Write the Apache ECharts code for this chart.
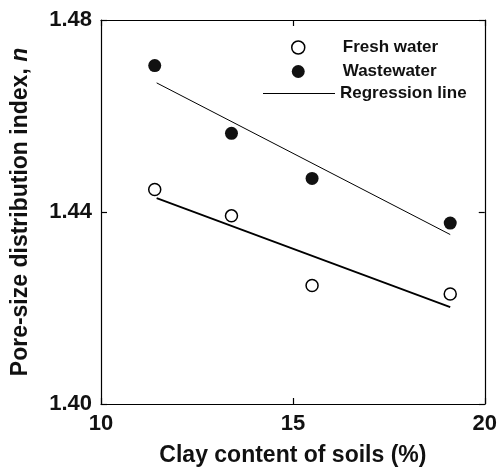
<!DOCTYPE html>
<html>
<head>
<meta charset="utf-8">
<script src="https://cdn.jsdelivr.net/npm/echarts@6/dist/echarts.min.js"></script>
<style>
  html, body { margin: 0; padding: 0; background: #fff; }
  #chart { width: 500px; height: 472px; }
</style>
</head>
<body>
<div id="chart"></div>
<script>
  // clay content (%) of the four soils
  var clay = [11.4, 13.4, 15.5, 19.1];
  var freshWater = [1.4447, 1.4392, 1.4247, 1.4229];
  var wasteWater = [1.4705, 1.4564, 1.4470, 1.4377];
  // regression end points
  var regX = [11.45, 19.1];
  var freshReg = [1.4429, 1.4202];
  var wasteReg = [1.4669, 1.4353];
  var xTicks = [10, 15, 20];
  var yTicks = [1.40, 1.44, 1.48];

  function pairs(xs, ys) {
    return xs.map(function (x, i) { return [x, ys[i]]; });
  }

  var font = 'Liberation Sans';
  var chart = echarts.init(document.getElementById('chart'));

  var axisLine = { lineStyle: { color: '#000', width: 1.2 } };
  var tick = { inside: true, length: 6, lineStyle: { color: '#000', width: 1.2 } };
  var legendText = { fontFamily: font, fontWeight: 'bold', fontSize: 17, color: '#111' };

  var option = {
    animation: false,
    grid: { left: 101, right: 13, top: 20, bottom: 66 },
    legend: [
      {
        left: 286, top: 34, orient: 'vertical',
        itemWidth: 13, itemHeight: 13, itemGap: 7,
        textStyle: Object.assign({ padding: [0, 0, 0, 33] }, legendText),
        data: [
          { name: 'Fresh water', icon: 'circle', itemStyle: { color: '#fff', borderColor: '#000', borderWidth: 1.5 } },
          { name: 'Wastewater', icon: 'circle', itemStyle: { color: '#111', borderWidth: 0 } }
        ]
      },
      {
        left: 258, top: 80, orient: 'vertical',
        itemWidth: 72, itemHeight: 12,
        textStyle: legendText,
        data: [
          { name: 'Regression line', icon: 'path://M0,0h72v1h-72z', itemStyle: { color: '#000', borderWidth: 0 } }
        ]
      }
    ],
    xAxis: [
      {
        type: 'value', min: 10, max: 20, interval: 5,
        name: 'Clay content of soils (%)', nameLocation: 'middle', nameGap: 40,
        nameTextStyle: { fontFamily: font, fontWeight: 'bold', fontSize: 23, color: '#111' },
        axisLine: axisLine, axisTick: tick, splitLine: { show: false },
        axisLabel: {
          margin: 9, fontFamily: font, fontWeight: 'bold', fontSize: 22, color: '#111',
          formatter: function (v) { return xTicks.indexOf(v) >= 0 ? String(v) : ''; }
        }
      },
      {
        type: 'value', min: 10, max: 20, interval: 5, position: 'top',
        axisLine: axisLine, axisTick: tick, axisLabel: { show: false }, splitLine: { show: false }
      }
    ],
    yAxis: [
      {
        type: 'value', min: 1.40, max: 1.48, interval: 0.04,
        name: 'Pore-size distribution index, {i|n}', nameLocation: 'middle', nameGap: 69,
        nameTextStyle: {
          fontFamily: font, fontWeight: 'bold', fontSize: 23, color: '#111',
          rich: { i: { fontFamily: font, fontWeight: 'bold', fontStyle: 'italic', fontSize: 23, color: '#111' } }
        },
        axisLine: axisLine, axisTick: tick, splitLine: { show: false },
        axisLabel: {
          margin: 9, fontFamily: font, fontWeight: 'bold', fontSize: 22, color: '#111',
          formatter: function (v) {
            var hit = yTicks.filter(function (t) { return Math.abs(t - v) < 1e-6; });
            return hit.length ? hit[0].toFixed(2) : '';
          }
        }
      },
      {
        type: 'value', min: 1.40, max: 1.48, interval: 0.04, position: 'right',
        axisLine: axisLine, axisTick: tick, axisLabel: { show: false }, splitLine: { show: false }
      }
    ],
    series: [
      {
        name: 'Regression line', type: 'line', data: pairs(regX, freshReg),
        symbol: 'none', lineStyle: { color: '#000', width: 1.8 }, z: 1
      },
      {
        name: 'Regression line', type: 'line', data: pairs(regX, wasteReg),
        symbol: 'none', lineStyle: { color: '#000', width: 1 }, z: 1
      },
      {
        name: 'Fresh water', type: 'scatter', data: pairs(clay, freshWater),
        symbolSize: 12, itemStyle: { color: '#fff', borderColor: '#000', borderWidth: 1.5, opacity: 1 }, z: 3
      },
      {
        name: 'Wastewater', type: 'scatter', data: pairs(clay, wasteWater),
        symbolSize: 13, itemStyle: { color: '#111', opacity: 1 }, z: 3
      }
    ]
  };

  chart.setOption(option);
</script>
</body>
</html>
